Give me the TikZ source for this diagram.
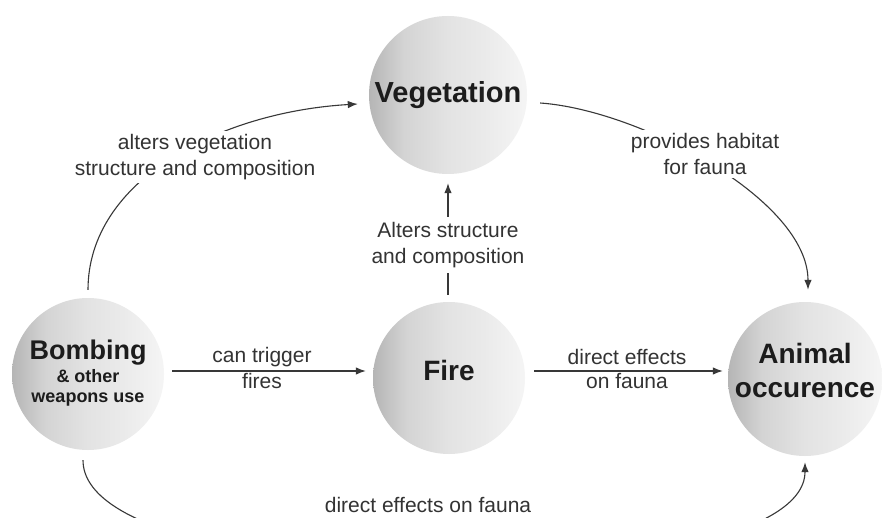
\documentclass[tikz,border=0pt]{standalone}
\usepackage{fontspec}
\setmainfont{Liberation Sans}
\usetikzlibrary{arrows.meta}
\definecolor{ln}{HTML}{383838}
\definecolor{tx}{HTML}{333333}
\definecolor{ttl}{HTML}{1c1c1c}
\pgfdeclarehorizontalshading{hubshade}{100bp}{color(0bp)=(black!30); color(25bp)=(black!29); color(36bp)=(black!17); color(50bp)=(black!11); color(62bp)=(black!8); color(75bp)=(black!4); color(100bp)=(black!4)}
\begin{document}
\begin{tikzpicture}[x=1pt,y=-1pt,
  hub/.style={circle, minimum size=#1, inner sep=0pt, shading=hubshade, draw=none, text=ttl, font=\bfseries, align=center},
  lbl/.style={font=\fontsize{21}{26}\selectfont, text=tx, align=center, inner sep=1pt},
  arr/.style={draw=ln, line width=1.1pt, -{Latex[length=10pt,width=7.5pt]}}]
\useasboundingbox (0,0) rectangle (882,518);
\clip (0,0) rectangle (882,518);
\fill[white] (0,0) rectangle (882,518);

% circles
\node[hub=158pt] (veg) at (448,95) {\fontsize{29}{34}\selectfont Vegetation};
\node[hub=152pt] (fire) at (449,378) {\raisebox{8pt}[\height]{\fontsize{28}{34}\selectfont Fire}};
\node[hub=152pt] (bomb) at (88,374) {\fontsize{18}{21}\selectfont\begin{tabular}{@{}c@{}}{\fontsize{27}{30}\selectfont Bombing}\\[2pt]\& other\\[-1pt]weapons use\end{tabular}};
\node[hub=154pt] (anim) at (805,379) {\raisebox{10pt}[\height]{\fontsize{28}{34}\selectfont\begin{tabular}{@{}c@{}}Animal\\occurence\end{tabular}}};

% straight connectors
\coordinate (row) at (0,371);
\draw[arr, shorten <=8pt, shorten >=7pt] (bomb.east |- row) -- (fire.west |- row);
\draw[arr, shorten <=9pt, shorten >=5pt] (fire.east |- row) -- (anim.west |- row);
\node[lbl] at (262,357) {can trigger};
\node[lbl] at (262,381) {fires};
\node[lbl] at (627,357) {direct effects};
\node[lbl] at (627,381) {on fauna};

\draw[arr, shorten <=7pt, shorten >=9pt] (fire.north -| veg.south) -- (veg.south);
\node[lbl, fill=white, inner ysep=5pt] at (448,245) {Alters structure\\and composition};

% curved connectors
\draw[arr] ([yshift=8pt]bomb.north) .. controls (88,180) and (220,112) .. ([shift={(-11pt,-9pt)}]veg.west);
\node[lbl, fill=white, inner sep=3pt] at (195,157) {alters vegetation\\structure and composition};

\draw[arr] ([shift={(13pt,-8pt)}]veg.east) .. controls (640,110) and (808,200) .. ([shift={(3pt,12pt)}]anim.north);
\node[lbl, fill=white, inner sep=3pt] at (705,154) {provides habitat\\for fauna};

\draw[arr] ([shift={(-5pt,-10pt)}]bomb.south) .. controls (83,600) and (805,600) .. ([yshift=-6pt]anim.south);
\node[lbl] at (428,505) {direct effects on fauna};
\end{tikzpicture}
\end{document}
